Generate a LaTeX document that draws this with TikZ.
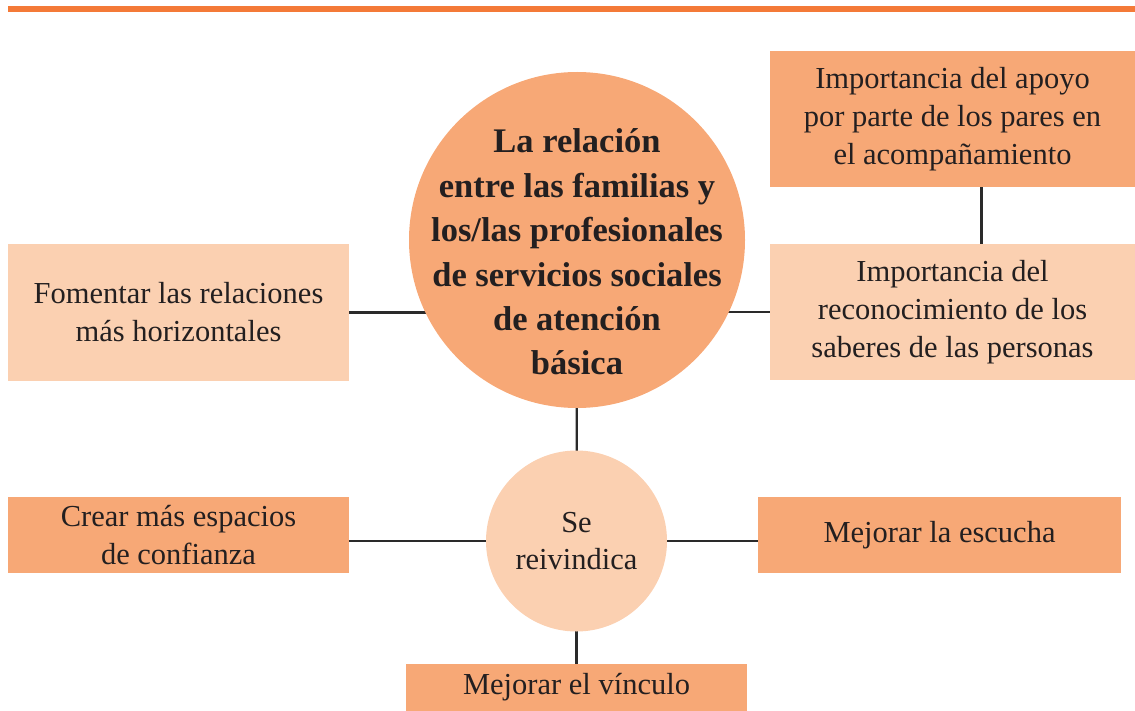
\documentclass[tikz,border=0pt]{standalone}
\usepackage{fontspec}
\setmainfont{LiberationSerif}[Extension=.ttf, UprightFont=*-Regular, BoldFont=*-Bold, ItalicFont=*-Italic, BoldItalicFont=*-BoldItalic]
\usetikzlibrary{backgrounds}
\definecolor{darkfill}{HTML}{F7A876}
\definecolor{lightfill}{HTML}{FBD0B1}
\definecolor{topline}{HTML}{F47A38}
\definecolor{linkc}{HTML}{2A2A2A}
\definecolor{txt}{HTML}{231F20}
\tikzset{
  boxbase/.style={rectangle, inner sep=0pt, align=center, text=txt,
    font=\fontsize{30.5}{38}\selectfont},
  darkbox/.style={boxbase, fill=darkfill},
  lightbox/.style={boxbase, fill=lightfill},
  link/.style={draw=linkc, line width=2.3pt},
}
\begin{document}
\begin{tikzpicture}[x=1pt,y=-1pt]
\useasboundingbox (0,0) rectangle (1135,711);
\fill[topline] (8,6.5) rectangle (1135,12);
% nodes
\node[circle, fill=darkfill, minimum size=336pt, inner sep=0pt] (big) at (577,240) {};
\node[align=center, text=txt, inner sep=0pt,
  font=\bfseries\fontsize{34.5}{44.4}\selectfont] (bigtext) at (577,252)
  {La relación\\entre las familias y\\los/las profesionales\\de servicios sociales\\de atención\\básica};
\node[circle, fill=lightfill, minimum size=181pt, inner sep=0pt, align=center, text=txt,
  font=\fontsize{30.5}{37}\selectfont] (small) at (576.5,541) {Se\\reivindica};
\node[lightbox, minimum width=341pt, minimum height=137pt] (lbox) at (178.5,312.5)
  {Fomentar las relaciones\\más horizontales};
\node[darkbox, minimum width=341pt, minimum height=76pt] (ldark) at (178.5,535)
  {Crear más espacios\\de confianza};
\node[darkbox, minimum width=365pt, minimum height=136pt] (rup) at (952.5,119)
  {Importancia del apoyo\\por parte de los pares en\\el acompañamiento};
\node[lightbox, minimum width=365pt, minimum height=136pt] (rlow) at (952.5,312)
  {Importancia del\\reconocimiento de los\\saberes de las personas};
\node[darkbox, minimum width=363pt, minimum height=76pt] (rdark) at (939.5,535)
  {Mejorar la escucha};
\node[darkbox, minimum width=341pt, minimum height=47pt] (bottom) at (576.5,687.5)
  {Mejorar el vínculo};
% connectors
\begin{scope}[on background layer]
\draw[link] (lbox.east) -- (lbox.east -| big.center);
\draw[link] (rlow.west) -- (rlow.west -| big.center);
\draw[link] (big.center) -- (small.center);
\draw[link] (small.center) -- (small.center -| ldark.east);
\draw[link] (small.center) -- (small.center -| rdark.west);
\draw[link] (small.center) -- (bottom.north);
\draw[link] ([xshift=29pt]rup.south) -- ([xshift=29pt]rlow.north);
\end{scope}
\end{tikzpicture}
\end{document}
